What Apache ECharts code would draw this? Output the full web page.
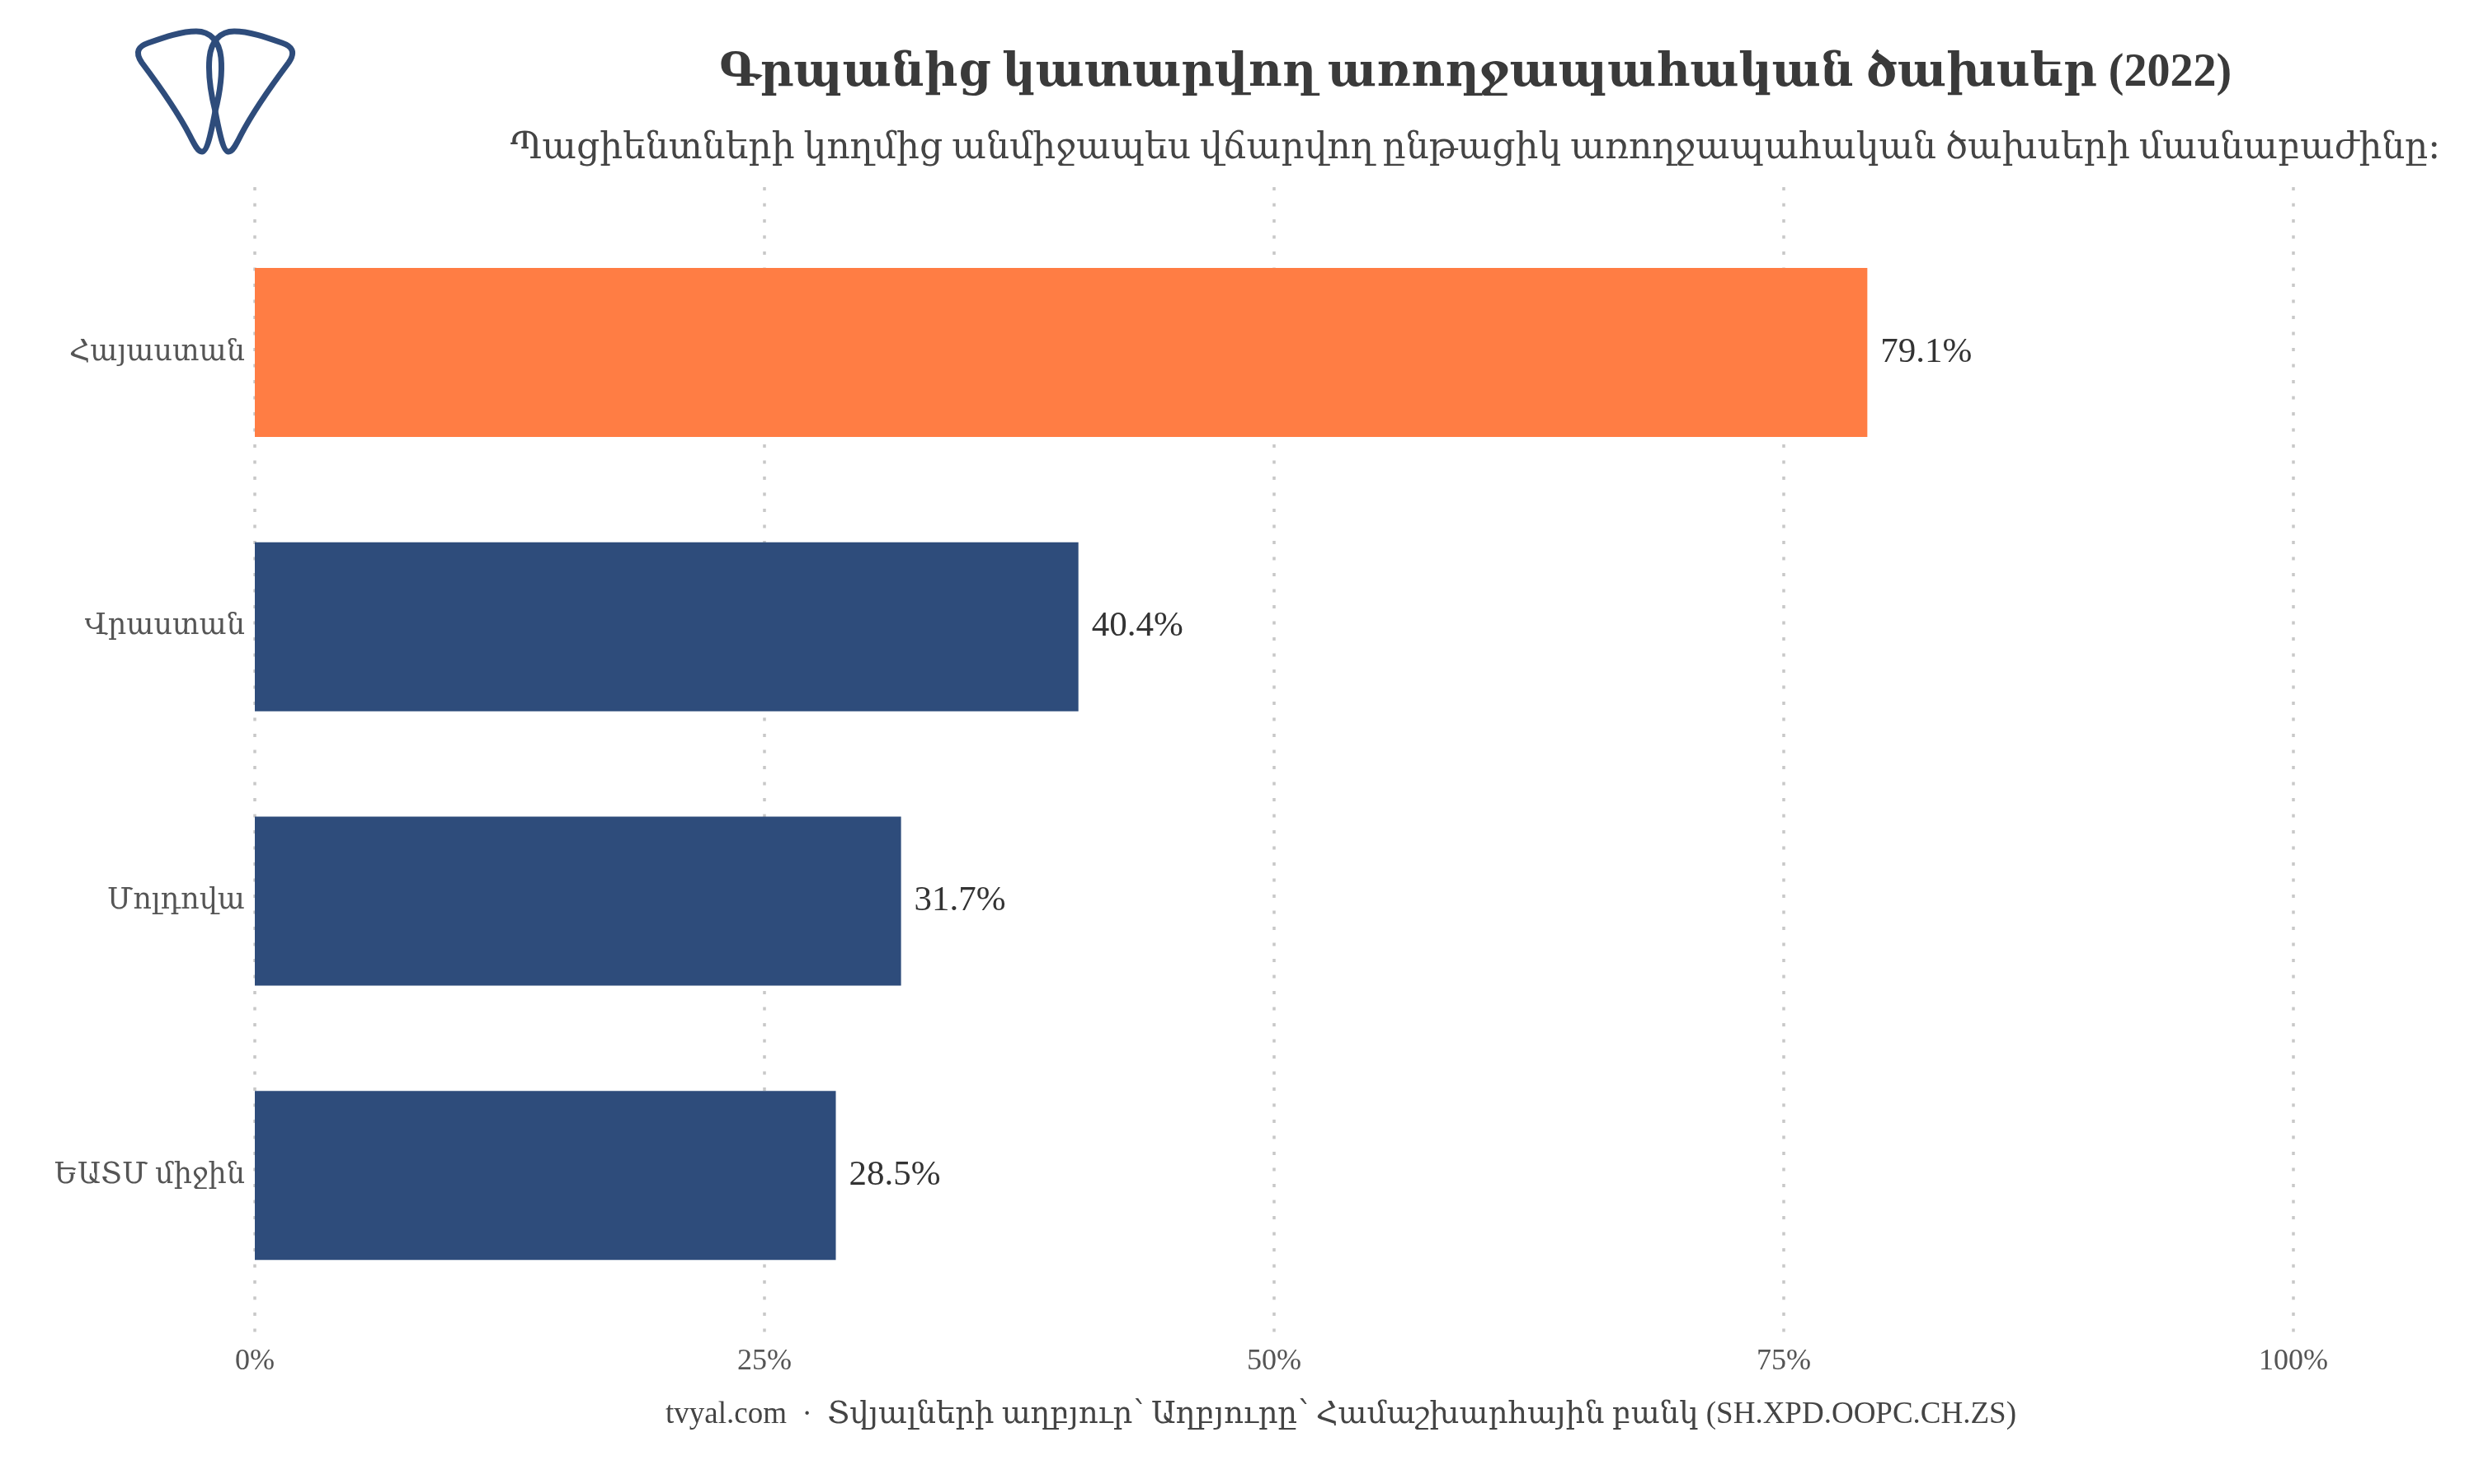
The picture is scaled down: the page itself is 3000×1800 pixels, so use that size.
<!DOCTYPE html>
<html>
<head>
<meta charset="utf-8">
<script src="https://cdn.jsdelivr.net/npm/echarts@6/dist/echarts.min.js"></script>
<style>
html,body{margin:0;padding:0;background:#fff;}
#chart{width:3000px;height:1800px;}
</style>
</head>
<body>
<div id="chart"></div>
<script>
const categories = ['Հայաստան', 'Վրաստան', 'Մոլդովա', 'ԵԱՏՄ միջին'];
const values = [79.1, 40.4, 31.7, 28.5];
const highlight = 'Հայաստան';
const titleText = 'Գրպանից կատարվող առողջապահական ծախսեր (2022)';
const subtitleText = 'Պացիենտների կողմից անմիջապես վճարվող ընթացիկ առողջապահական ծախսերի մասնաբաժինը։';
const captionText = 'tvyal.com  ·  Տվյալների աղբյուր՝ Աղբյուրը՝ Համաշխարհային բանկ (SH.XPD.OOPC.CH.ZS)';

const FONT = '"Liberation Serif", "DejaVu Serif", serif';
const NAVY = '#2e4c7b';
const ORANGE = '#ff7d44';

const logoSvg = '<svg xmlns="http://www.w3.org/2000/svg" width="200" height="160" viewBox="160 30 200 160">' +
  '<g fill="none" stroke="' + NAVY + '" stroke-width="7" stroke-linejoin="round">' +
  '<path d="M245,184 C240,184 236,176 230,164 C215,135 190,100 172,76 C163,63 168,56 180,52 C200,45 220,38 238,38 C255,38 266,50 268,70 C270,92 266,115 261,135 C257,155 252,184 245,184 Z"/>' +
  '<path d="M277,184 C282,184 286,176 292,164 C307,135 332,100 350,76 C359,63 354,56 342,52 C322,45 302,38 284,38 C267,38 256,50 254,70 C252,92 256,115 261,135 C265,155 270,184 277,184 Z"/>' +
  '</g></svg>';
const logoUrl = 'data:image/svg+xml;charset=utf-8,' + encodeURIComponent(logoSvg);

const chart = echarts.init(document.getElementById('chart'));
chart.setOption({
  backgroundColor: '#ffffff',
  animation: false,
  textStyle: { fontFamily: FONT },
  grid: [
    { left: 309, right: 219, top: 227, bottom: 177 },
    { left: 309, right: 219, top: 261, bottom: 208 }
  ],
  xAxis: [
    {
      gridIndex: 0, type: 'value', min: 0, max: 100, interval: 25,
      axisLine: { show: false }, axisTick: { show: false },
      axisLabel: { formatter: '{value}%', fontSize: 36, color: '#555', margin: 11, fontFamily: FONT },
      splitLine: { show: true, lineStyle: { color: '#c8c8c8', width: 3.5, type: [4, 15.5] } }
    },
    {
      gridIndex: 1, type: 'value', min: 0, max: 100, interval: 25, show: false,
      splitLine: { show: false }
    }
  ],
  yAxis: [
    {
      gridIndex: 0, type: 'value', show: false, splitLine: { show: false }
    },
    {
      gridIndex: 1, type: 'category', data: categories, inverse: true,
      axisLine: { show: false }, axisTick: { show: false },
      axisLabel: { fontSize: 35, color: '#555', margin: 12, fontFamily: FONT }
    }
  ],
  series: [{
    type: 'bar',
    xAxisIndex: 1, yAxisIndex: 1,
    barWidth: 205,
    data: values.map((v, i) => ({
      value: v,
      itemStyle: { color: categories[i] === highlight ? ORANGE : NAVY }
    })),
    label: {
      show: true, position: 'right', distance: 16,
      formatter: p => p.value.toFixed(1) + '%',
      fontSize: 43, color: '#333', fontFamily: FONT
    }
  }],
  graphic: [
    {
      type: 'text',
      style: { text: titleText, x: 1789, y: 90, font: 'bold 56px ' + FONT, fill: '#3a3a3a', textAlign: 'center', textVerticalAlign: 'middle' }
    },
    {
      type: 'text',
      style: { text: subtitleText, x: 1789, y: 180, font: '44px ' + FONT, fill: '#444', textAlign: 'center', textVerticalAlign: 'middle' }
    },
    {
      type: 'text',
      style: { text: captionText, x: 1626, y: 1716, font: '37px ' + FONT, fill: '#444', textAlign: 'center', textVerticalAlign: 'middle' }
    },
    {
      type: 'image',
      style: { image: logoUrl, x: 160, y: 30, width: 200, height: 160 }
    }
  ]
});
</script>
</body>
</html>
